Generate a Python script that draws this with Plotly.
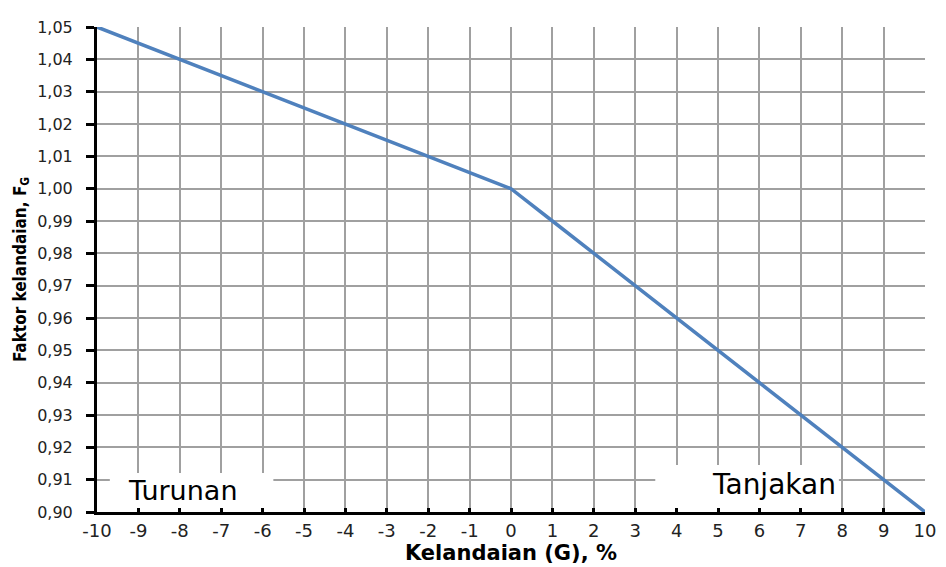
import plotly.graph_objects as go

grades = [-10, -9, -8, -7, -6, -5, -4, -3, -2, -1, 0, 1, 2, 3, 4, 5, 6, 7, 8, 9, 10]
factor = [1.050, 1.045, 1.040, 1.035, 1.030, 1.025, 1.020, 1.015, 1.010, 1.005, 1.000,
          0.990, 0.980, 0.970, 0.960, 0.950, 0.940, 0.930, 0.920, 0.910, 0.900]
y_ticks = [round(0.90 + 0.01 * i, 2) for i in range(16)]
y_tick_labels = [f"{v:.2f}".replace(".", ",") for v in y_ticks]
x_ticks = list(range(-10, 11))

FONT = "DejaVu Sans, Liberation Sans, Arial"
FONT_NARROW = "Liberation Sans Narrow, DejaVu Sans Condensed, Arial Narrow, Liberation Sans"

fig = go.Figure()
fig.add_trace(go.Scatter(x=grades, y=factor, mode="lines",
                         line=dict(color="#4F81BD", width=3.5), showlegend=False))

# white label boxes covering the grid (between grid and data)
fig.add_shape(type="rect", xref="x", yref="y", x0=-9.69, x1=-5.74, y0=0.90, y1=0.9121,
              fillcolor="white", line=dict(width=0), layer="between")
fig.add_shape(type="rect", xref="x", yref="y", x0=3.485, x1=7.92, y0=0.90, y1=0.9145,
              fillcolor="white", line=dict(width=0), layer="between")

fig.add_annotation(x=-7.92, y=0.9066, text="Turunan", showarrow=False,
                   font=dict(family=FONT, size=27, color="black"),
                   xanchor="center", yanchor="middle")
fig.add_annotation(x=6.36, y=0.9084, text="Tanjakan", showarrow=False,
                   font=dict(family=FONT, size=28, color="black"),
                   xanchor="center", yanchor="middle")

fig.update_layout(
    width=938, height=559,
    margin=dict(l=89, r=13, t=10, b=52),
    paper_bgcolor="white", plot_bgcolor="white",
    font=dict(family=FONT, color="#222"),
    xaxis=dict(range=[-10, 10], tickvals=x_ticks, ticktext=[str(v) for v in x_ticks],
               showgrid=True, gridcolor="#a0a0a0", gridwidth=2,
               showline=True, linecolor="black", linewidth=3,
               ticks="inside", ticklen=4, tickwidth=3, tickcolor="black",
               tickfont=dict(family=FONT, size=18, color="#222"),
               zeroline=False,
               title=dict(text="<b>Kelandaian (G), %</b>",
                          font=dict(family=FONT, size=21, color="black"), standoff=2)),
    yaxis=dict(range=[0.90, 1.05], tickvals=y_ticks, ticktext=y_tick_labels,
               showgrid=True, gridcolor="#a0a0a0", gridwidth=2,
               showline=True, linecolor="black", linewidth=3,
               ticks="outside", ticklen=8, tickwidth=3, tickcolor="black",
               tickfont=dict(family=FONT, size=16, color="#222"),
               ticklabelstandoff=10,
               zeroline=False,
               title=dict(text="<b>Faktor kelandaian, F<sub>G</sub></b>",
                          font=dict(family=FONT_NARROW, size=17, color="black"), standoff=7)),
)

fig.write_html("out.html")
